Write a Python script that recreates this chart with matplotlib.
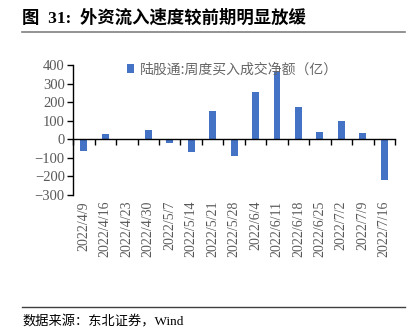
import matplotlib.pyplot as plt
import matplotlib.transforms as mtransforms
import numpy as np

plt.rcParams['font.family'] = ['Liberation Serif', 'Noto Sans CJK SC', 'DejaVu Sans']

dates = ['2022/4/9', '2022/4/16', '2022/4/23', '2022/4/30', '2022/5/7',
         '2022/5/14', '2022/5/21', '2022/5/28', '2022/6/4', '2022/6/11',
         '2022/6/18', '2022/6/25', '2022/7/2', '2022/7/9', '2022/7/16']
net_buy = [-62, 28, 3, 50, -20, -68, 152, -92, 253, 368, 172, 38, 100, 33, -218]
legend_label = '陆股通:周度买入成交净额（亿）'

fig = plt.figure(figsize=(4.18, 3.34), dpi=100)
ax = fig.add_axes([0.175, 0.416, 0.77, 0.389])

x = np.arange(len(dates))
ax.bar(x, net_buy, width=0.32, color='#4472C4', label=legend_label)

ax.set_xlim(-0.5, len(dates) - 0.5)
ax.set_ylim(-300, 400)
ax.set_yticks(range(-300, 401, 100))

ax.spines['top'].set_visible(False)
ax.spines['right'].set_visible(False)
ax.spines['bottom'].set_position(('data', 0))
ax.spines['left'].set_linewidth(1.0)
ax.spines['bottom'].set_linewidth(1.0)

# boundary ticks on zero line, labels placed below the plot
ax.set_xticks(np.arange(len(dates) + 1) - 0.5)
ax.set_xticklabels([])
ax.tick_params(axis='x', direction='out', length=4, width=1)
ax.tick_params(axis='y', direction='out', length=4, width=1,
               labelsize=10.5, labelcolor='#595959', pad=2)

trans = mtransforms.blended_transform_factory(ax.transData, ax.transAxes)
for i, d in enumerate(dates):
    ax.text(i, -0.045, d, transform=trans, rotation=90, ha='center', va='top',
            fontsize=10, color='#595959')

leg = ax.legend(loc='upper left', bbox_to_anchor=(0.13, 1.115), frameon=False,
                handlelength=0.5, handleheight=0.6, handletextpad=0.4,
                prop={'family': ['Noto Sans CJK SC'], 'size': 10})
for t in leg.get_texts():
    t.set_color('#666666')

fig.text(0.053, 0.945, '图  31:  外资流入速度较前期明显放缓', fontsize=12.5,
         fontweight='bold', ha='left', va='center',
         family=['Liberation Serif', 'Noto Sans CJK SC'])
fig.add_artist(plt.Line2D([0.053, 0.968], [0.903, 0.903], color='#808080', lw=1.2))
fig.add_artist(plt.Line2D([0.053, 0.968], [0.081, 0.081], color='#404040', lw=1.0))
fig.text(0.053, 0.036, '数据来源：东北证券，Wind', fontsize=9.5, ha='left', va='center',
         family=['Liberation Serif', 'Noto Sans CJK SC'])

fig.savefig('out.png', dpi=100)
